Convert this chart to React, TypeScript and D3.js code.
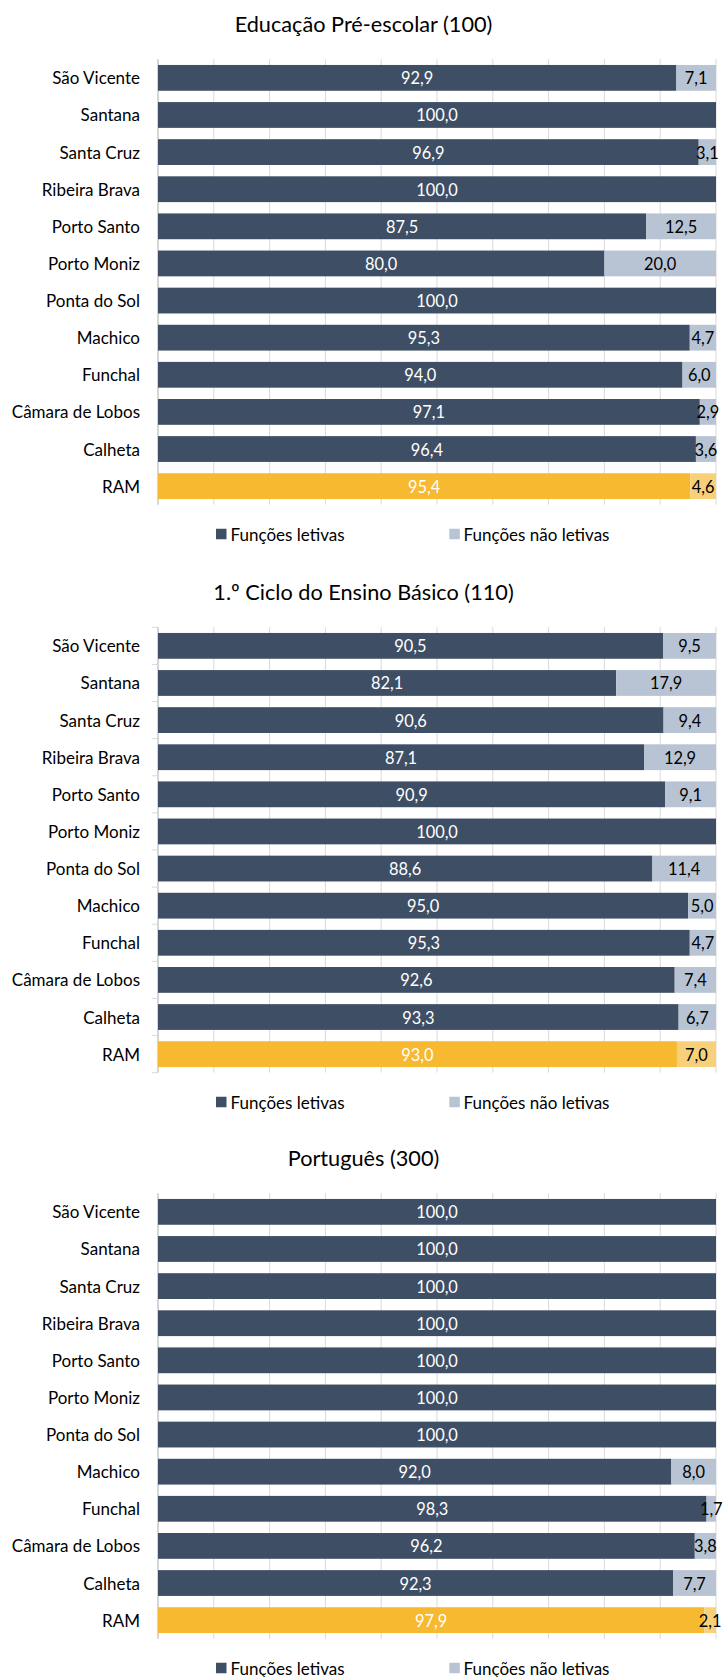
import React from "react";
import * as d3 from "d3";

const categories = [
  "São Vicente",
  "Santana",
  "Santa Cruz",
  "Ribeira Brava",
  "Porto Santo",
  "Porto Moniz",
  "Ponta do Sol",
  "Machico",
  "Funchal",
  "Câmara de Lobos",
  "Calheta",
  "RAM",
];

const titles = [
  "Educação Pré-escolar (100)",
  "1.º Ciclo do Ensino Básico (110)",
  "Português (300)",
];

const letivas1 = [92.9, 100.0, 96.9, 100.0, 87.5, 80.0, 100.0, 95.3, 94.0, 97.1, 96.4, 95.4];
const naoLetivas1 = [7.1, 0, 3.1, 0, 12.5, 20.0, 0, 4.7, 6.0, 2.9, 3.6, 4.6];

const letivas2 = [90.5, 82.1, 90.6, 87.1, 90.9, 100.0, 88.6, 95.0, 95.3, 92.6, 93.3, 93.0];
const naoLetivas2 = [9.5, 17.9, 9.4, 12.9, 9.1, 0, 11.4, 5.0, 4.7, 7.4, 6.7, 7.0];

const letivas3 = [100.0, 100.0, 100.0, 100.0, 100.0, 100.0, 100.0, 92.0, 98.3, 96.2, 92.3, 97.9];
const naoLetivas3 = [0, 0, 0, 0, 0, 0, 0, 8.0, 1.7, 3.8, 7.7, 2.1];

const seriesNames = ["Funções letivas", "Funções não letivas"];
const xTicks = [0, 10, 20, 30, 40, 50, 60, 70, 80, 90, 100];

const panels = [
  { title: titles[0], a: letivas1, b: naoLetivas1, offset: 0, sideTicks: false },
  { title: titles[1], a: letivas2, b: naoLetivas2, offset: 568, sideTicks: true },
  { title: titles[2], a: letivas3, b: naoLetivas3, offset: 1134, sideTicks: false },
];

const W = 727;
const H = 1677;
const FONT = "Lato, 'Open Sans', sans-serif";
const DARK = "#3E4E65";
const LIGHT = "#B8C4D3";
const ORANGE = "#F6B92F";
const ORANGE_LIGHT = "#F9D07A";
const LABEL_SIZE = 17;
const VALUE_SIZE = 16.4;
const TITLE_SIZE = 21.7;

const x = d3.scaleLinear().domain([0, 100]).range([158, 716]);
const y = d3
  .scaleBand<string>()
  .domain(categories)
  .range([59.3, 504.7])
  .paddingInner(0.305)
  .paddingOuter(0.1525);

const fmt = (v: number) => v.toFixed(1).replace(".", ",");

function Panel({ p }: { p: (typeof panels)[number] }) {
  const bw = y.bandwidth();
  const step = y.step();
  const top = y.range()[0];
  const bottom = y.range()[1];
  return (
    <g transform={`translate(0,${p.offset})`}>
      <text
        x={W / 2}
        y={23.5}
        textAnchor="middle"
        dominantBaseline="central"
        fontSize={TITLE_SIZE}
        fill="#000"
      >
        {p.title}
      </text>
      {xTicks.map((t) => (
        <line key={t} x1={x(t)} x2={x(t)} y1={top} y2={bottom} stroke="#D9D9D9" strokeWidth={1} />
      ))}
      <line x1={x(0)} x2={x(0)} y1={top} y2={bottom} stroke="#BFBFBF" strokeWidth={1} />
      {p.sideTicks &&
        categories.map((c, i) => (
          <line
            key={"st" + c}
            x1={x(0) - 6}
            x2={x(0)}
            y1={top + i * step}
            y2={top + i * step}
            stroke="#D9D9D9"
          />
        ))}
      {p.sideTicks && (
        <line x1={x(0) - 6} x2={x(0)} y1={bottom} y2={bottom} stroke="#D9D9D9" />
      )}
      {categories.map((c, i) => {
        const yy = y(c)!;
        const isRam = c === "RAM";
        const a = p.a[i];
        const b = p.b[i];
        const cy = yy + bw / 2;
        return (
          <g key={c}>
            <text
              x={140}
              y={cy}
              textAnchor="end"
              dominantBaseline="central"
              fontSize={LABEL_SIZE}
              fill="#000"
            >
              {c}
            </text>
            <rect x={x(0)} y={yy} width={x(a) - x(0)} height={bw} fill={isRam ? ORANGE : DARK} />
            {b > 0 && (
              <rect x={x(a)} y={yy} width={x(a + b) - x(a)} height={bw} fill={isRam ? ORANGE_LIGHT : LIGHT} />
            )}
            <text
              x={(x(0) + x(a)) / 2}
              y={cy}
              textAnchor="middle"
              dominantBaseline="central"
              fontSize={VALUE_SIZE}
              fill="#FFFFFF"
            >
              {fmt(a)}
            </text>
            {b > 0 && (
              <text
                x={(x(a) + x(a + b)) / 2}
                y={cy}
                textAnchor="middle"
                dominantBaseline="central"
                fontSize={VALUE_SIZE}
                fill="#000"
              >
                {fmt(b)}
              </text>
            )}
          </g>
        );
      })}
      <g transform="translate(0,534)">
        <rect x={216} y={-5.25} width={10.5} height={10.5} fill={DARK} />
        <text x={230.5} y={0} dominantBaseline="central" fontSize={LABEL_SIZE} fill="#000">
          {seriesNames[0]}
        </text>
        <rect x={449.3} y={-5.25} width={10.5} height={10.5} fill={LIGHT} />
        <text x={463.5} y={0} dominantBaseline="central" fontSize={LABEL_SIZE} fill="#000">
          {seriesNames[1]}
        </text>
      </g>
    </g>
  );
}

export default function App() {
  return (
    <svg
      width={W}
      height={H}
      viewBox={`0 0 ${W} ${H}`}
      style={{ position: "absolute", left: 0, top: 0, background: "#fff", fontFamily: FONT }}
    >
      <rect x={0} y={0} width={W} height={H} fill="#fff" />
      {panels.map((p) => (
        <Panel key={p.title} p={p} />
      ))}
    </svg>
  );
}
